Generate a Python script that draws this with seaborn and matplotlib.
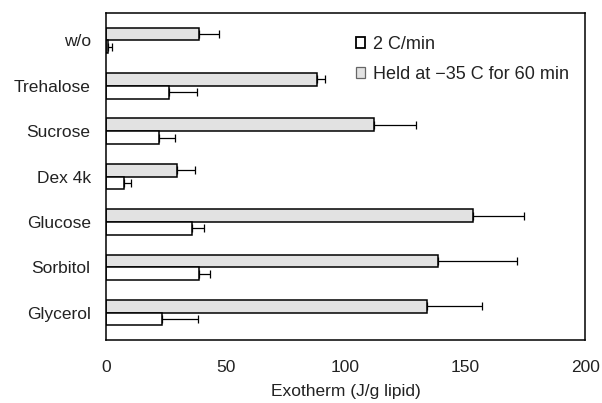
import matplotlib
matplotlib.use("Agg")
import matplotlib.pyplot as plt
from matplotlib.patches import Patch
import seaborn as sns
import pandas as pd
import numpy as np

# Cryoprotectant samples and measured exotherms (J/g lipid)
samples = ["w/o", "Trehalose", "Sucrose", "Dex 4k", "Glucose", "Sorbitol", "Glycerol"]
held_mean = [39, 88, 112, 29.5, 153, 138.5, 134]
held_err = [8, 3.5, 17.5, 7.5, 21.5, 33, 23]
ramp_mean = [1, 26.5, 22, 7.5, 36, 39, 23.5]
ramp_err = [1.5, 11.5, 7, 3, 5, 4.5, 15]

held_label = "Held at \u221235 C for 60 min"
ramp_label = "2 C/min"

df = pd.DataFrame({
    "sample": samples * 2,
    "exotherm": held_mean + ramp_mean,
    "err": held_err + ramp_err,
    "protocol": [held_label] * len(samples) + [ramp_label] * len(samples),
})

sns.set_theme(style="white")
plt.rcParams["font.family"] = ["Liberation Sans", "DejaVu Sans"]

fig = plt.figure(figsize=(6.02, 4.03), dpi=100)
ax = fig.add_axes([0.176, 0.156, 0.796, 0.812])

palette = {held_label: "#e2e2e2", ramp_label: "white"}
sns.barplot(
    data=df, y="sample", x="exotherm", hue="protocol",
    order=samples, hue_order=[held_label, ramp_label],
    palette=palette, width=0.56, errorbar=None, orient="h",
    edgecolor="black", linewidth=1.1, ax=ax, legend=False,
)

# one-sided error bars placed at the centre of each drawn bar
for container, errs in zip(ax.containers, [held_err, ramp_err]):
    for patch, e in zip(container.patches, errs):
        yc = patch.get_y() + patch.get_height() / 2
        ax.errorbar(patch.get_width(), yc, xerr=[[0], [e]], fmt="none",
                    ecolor="black", elinewidth=0.9, capsize=3, capthick=0.9)

txt = "#222222"
ax.set_xlim(0, 200)
ax.set_xticks([0, 50, 100, 150, 200])
ax.set_xlabel("Exotherm (J/g lipid)", fontsize=12.5, color=txt, labelpad=7)
ax.set_ylabel("")
ax.tick_params(axis="both", length=0, labelsize=12.5, colors=txt)
ax.tick_params(axis="x", pad=14)
ax.tick_params(axis="y", pad=11)
for side in ["top", "bottom", "left", "right"]:
    ax.spines[side].set_visible(True)
    ax.spines[side].set_color("black")
    ax.spines[side].set_linewidth(1.1)

handles = [
    Patch(facecolor="white", edgecolor="black", linewidth=1.3, label=ramp_label),
    Patch(facecolor="#e2e2e2", edgecolor="#666666", linewidth=0.9, label=held_label),
]
ax.legend(handles=handles, loc="upper left", bbox_to_anchor=(0.487, 0.98),
          frameon=False, fontsize=13, handlelength=0.55, handleheight=0.55,
          handletextpad=0.4, labelspacing=0.75, labelcolor=txt)

fig.savefig("out.png", dpi=100)
